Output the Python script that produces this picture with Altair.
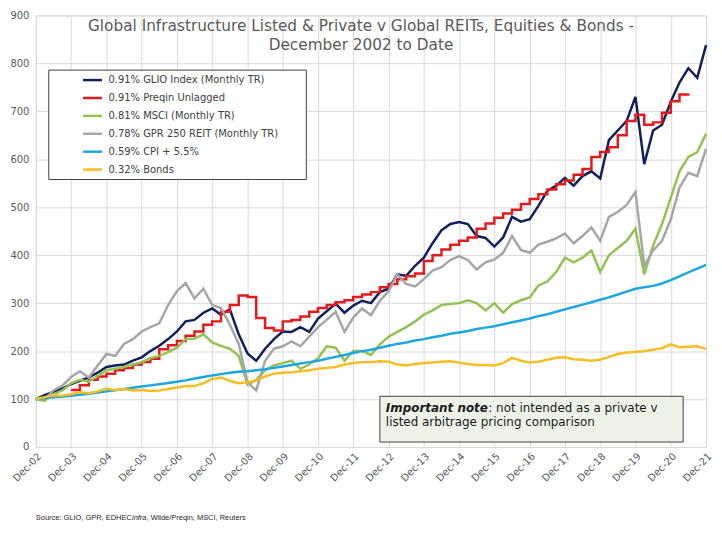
import altair as alt
import pandas as pd

# ---------------- data ----------------
dates = pd.date_range("2002-12-01", "2021-12-01", freq="3MS").strftime("%Y-%m-%d").tolist()

names = [
    "0.91% GLIO Index (Monthly TR)",
    "0.91% Preqin Unlagged",
    "0.81% MSCI (Monthly TR)",
    "0.78% GPR 250 REIT (Monthly TR)",
    "0.59% CPI + 5.5%",
    "0.32% Bonds",
]
colors = ["#10205e", "#e41a1c", "#92c352", "#a6a6a6", "#1ea6df", "#f5be22"]

glio = [100, 108, 115, 122, 131, 138, 145, 155, 167, 170, 172, 180, 187, 200, 211, 225, 241,
        262, 265, 280, 289, 276, 287, 235, 195, 180, 205, 225, 241, 240, 250, 240, 268,
        283, 299, 280, 295, 305, 300, 323, 330, 360, 357, 378, 395, 425, 452, 465, 469,
        465, 440, 436, 418, 437, 480, 470, 475, 503, 534, 545, 561, 545, 565, 575, 560,
        640, 660, 680, 730, 590, 660, 672, 720, 760, 790, 770, 838]
preqin = [None, None, None, None, 119, 129, 140, 147, 153, 160, 165, 172, 177, 184, 204, 212, 221,
          232, 241, 255, 262, 282, 296, 316, 313, 269, 248, 243, 262, 265, 272, 282, 290,
          296, 302, 306, 313, 318, 323, 333, 340, 350, 356, 362, 388, 400, 412, 422, 430,
          437, 455, 466, 478, 487, 495, 507, 517, 527, 537, 548, 556, 568, 580, 605, 615,
          625, 650, 680, 693, 672, 677, 697, 721, 735, 737, None, None]
msci = [100, 96, 110, 118, 133, 140, 136, 148, 160, 163, 167, 172, 177, 185, 190, 198, 207,
        225, 226, 235, 218, 211, 205, 190, 130, 140, 160, 170, 175, 180, 163, 172, 185,
        210, 207, 180, 200, 200, 192, 214, 230, 240, 250, 262, 276, 285, 296, 298, 300,
        306, 300, 285, 300, 280, 298, 306, 312, 337, 345, 365, 395, 385, 395, 410, 365,
        400, 415, 430, 455, 360, 420, 465, 520, 575, 605, 615, 653]
gpr = [100, 100, 118, 128, 146, 158, 145, 170, 194, 190, 215, 225, 241, 250, 258, 296, 325,
       342, 310, 330, 296, 290, 255, 215, 135, 118, 180, 205, 210, 220, 210, 230, 250,
       265, 282, 240, 270, 289, 275, 305, 325, 360, 340, 335, 350, 368, 375, 390, 398,
       390, 370, 385, 391, 405, 440, 411, 405, 422, 428, 435, 445, 425, 440, 458, 430,
       480, 490, 505, 532, 378, 410, 430, 475, 541, 572, 565, 622]
cpi = [100, 102, 103.5, 105, 107, 109, 111, 113.5, 116, 118.5, 121, 123.5, 126, 128.5, 131, 133.5, 136,
       139, 143, 146, 149, 152, 155, 157, 158, 160, 162, 165, 168, 171, 174, 177, 180,
       184, 188, 192, 196, 200, 203, 207, 211, 215, 218, 222, 225, 229, 232, 236, 239,
       242, 246, 249, 252, 256, 260, 264, 268, 273, 277, 282, 287, 292, 297, 302, 307,
       312, 318, 324, 330, 333, 336, 341, 348, 356, 364, 372, 380]
bonds = [100, 104, 108, 107, 110, 114, 112, 116, 122, 119, 121, 118, 119, 117, 118, 121, 124,
         127, 127, 133, 142, 145, 138, 133, 135, 139, 147, 153, 155, 156, 158, 160, 163,
         165, 167, 172, 175, 177, 177, 179, 178, 172, 170, 173, 175, 176, 178, 179, 176,
         173, 171, 171, 170, 175, 186, 180, 176, 178, 182, 186, 187, 183, 182, 180, 182,
         188, 194, 197, 198, 200, 203, 206, 214, 208, 209, 210, 204]

series_vals = [glio, preqin, msci, gpr, cpi, bonds]
for s in series_vals:
    assert len(s) == len(dates), len(s)

title_lines = ["Global Infrastructure Listed & Private v Global REITs, Equities & Bonds -",
               "December 2002 to Date"]
year_ticks = list(range(2002, 2022))

rows = []
for n, vals in zip(names, series_vals):
    for d, v in zip(dates, vals):
        rows.append({"date": d, "series": n, "value": v})
df = pd.DataFrame(rows)

# ---------------- chart ----------------
FONT = "DejaVu Sans"
GRID = "#d9d9d9"
TOP = 6  # plot top is at page y 8 + TOP
H = 434
x_enc = alt.X(
    "date:T",
    scale=alt.Scale(type="utc",
                    domain=[alt.DateTime(year=2002, month=12, date=1, utc=True),
                            alt.DateTime(year=2021, month=12, date=1, utc=True)]),
    axis=alt.Axis(values=[alt.DateTime(year=y, month=12, date=1, utc=True) for y in year_ticks],
                  labelExpr="utcFormat(datum.value, '%b-%y')", labelAngle=-45, labelAlign="right",
                  labelBaseline="top", labelPadding=4, labelFont=FONT, labelFontSize=10,
                  labelColor="#595959", ticks=False, domain=False, grid=True,
                  gridColor=GRID, title=None, labelOverlap=False),
)
y_enc = alt.Y(
    "value:Q",
    scale=alt.Scale(domain=[0, 900], nice=False),
    axis=alt.Axis(values=list(range(0, 901, 100)), labelFont=FONT, labelFontSize=10,
                  labelColor="#595959", ticks=False, domain=False, grid=True,
                  gridColor=GRID, labelPadding=7, title=None),
)
color_enc = alt.Color(
    "series:N",
    scale=alt.Scale(domain=names, range=colors),
    legend=alt.Legend(title=None, orient="none", legendX=82 - 36, legendY=69 - 8 - TOP - 1,
                      symbolType="stroke", symbolStrokeWidth=2.5, symbolSize=361,
                      labelFont=FONT, labelFontSize=10,
                      labelColor="#404040", labelOffset=5, labelLimit=400,
                      padding=0, rowPadding=2.0),
)

base = alt.Chart(df)
layers = []
for n in names:
    interp = "step-after" if "Preqin" in n else "linear"
    layers.append(
        base.transform_filter(alt.datum.series == n)
        .mark_line(strokeWidth=2.5, interpolate=interp)
        .encode(x=x_enc, y=y_enc, color=color_enc)
    )


def txt(t, x, y, size, **kw):
    # x, y given in page pixels; converted to plot coordinates
    return alt.Chart(pd.DataFrame({"t": [t]})).mark_text(fontSize=size, **kw).encode(
        text="t:N", x=alt.value(x - 36), y=alt.value(y - 8 - TOP))


def box(x1, x2, y1, y2, fill):
    return alt.Chart(pd.DataFrame({"a": [0]})).mark_rect(
        fill=fill, stroke="#404040", strokeWidth=1
    ).encode(x=alt.value(x1 - 36), x2=alt.value(x2 - 36),
             y=alt.value(y1 - 8 - TOP), y2=alt.value(y2 - 8 - TOP))


legend_box = box(49, 308, 69, 179, "white")

title1 = txt(title_lines[0], 363, 25, 15.4, font=FONT, color="#595959", align="center", baseline="middle")
title2 = txt(title_lines[1], 363, 44, 15.4, font=FONT, color="#595959", align="center", baseline="middle")

note_box = box(382, 687, 397, 443, "#eef2e8")
note1 = txt("Important note", 388, 409, 12, font=FONT, fontWeight="bold", fontStyle="italic",
            color="#1a1a1a", align="left", baseline="middle")
note2 = txt(": not intended as a private v", 491, 409, 12, font=FONT, color="#1a1a1a",
            align="left", baseline="middle")
note3 = txt("listed arbitrage pricing comparison", 388, 423, 12, font=FONT, color="#1a1a1a",
            align="left", baseline="middle")

src1 = txt("Source: GLIO, GPR, EDHEC", 36, 519, 7.5, font="Liberation Sans", color="#262626",
           align="left", baseline="middle")
src2 = txt("infra", 132.7, 519, 7.5, font="Liberation Sans", fontStyle="italic", color="#262626",
           align="left", baseline="middle")
src3 = txt(", Wilde/Preqin, MSCI, Reuters", 147.3, 519, 7.5, font="Liberation Sans", color="#262626",
           align="left", baseline="middle")

chart = alt.layer(
    *layers, legend_box, title1, title2, note_box, note1, note2, note3, src1, src2, src3
).properties(
    width=674, height=H,
    autosize=alt.AutoSizeParams(type="none"),
    padding={"left": 28, "top": TOP, "right": 8, "bottom": 86},
).configure_view(stroke=None).configure(background="white")

chart.save("out.html", embed_options={"renderer": "svg", "actions": False})
